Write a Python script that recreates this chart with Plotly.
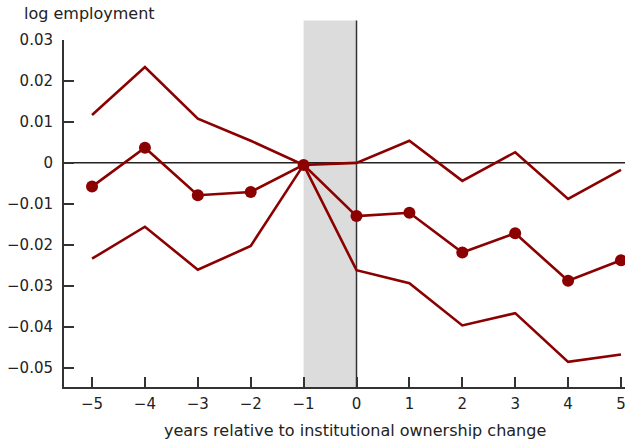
import plotly.graph_objects as go

# Event-time coefficients with 95% confidence bands
years = [-5, -4, -3, -2, -1, 0, 1, 2, 3, 4, 5]
estimate = [-0.0058, 0.0037, -0.0079, -0.0071, -0.0005, -0.0130, -0.0122, -0.0219, -0.0172, -0.0288, -0.0238]
upper_ci = [0.0117, 0.0234, 0.0108, 0.0054, -0.0005, 0.0000, 0.0054, -0.0044, 0.0026, -0.0088, -0.0017]
lower_ci = [-0.0234, -0.0156, -0.0261, -0.0203, -0.0005, -0.0262, -0.0294, -0.0397, -0.0367, -0.0486, -0.0468]

y_ticks = [0.03, 0.02, 0.01, 0, -0.01, -0.02, -0.03, -0.04, -0.05]
y_labels = ["0.03", "0.02", "0.01", "0", "\u22120.01", "\u22120.02", "\u22120.03", "\u22120.04", "\u22120.05"]
x_ticks = years
x_labels = ["\u22125", "\u22124", "\u22123", "\u22122", "\u22121", "0", "1", "2", "3", "4", "5"]

RED = "#8B0000"
AXIS = "#333333"
TEXT = "#222222"
FONT = "DejaVu Sans, Verdana, sans-serif"

fig = go.Figure()

for band in (upper_ci, lower_ci):
    fig.add_trace(go.Scatter(x=years, y=band, mode="lines",
                             line=dict(color=RED, width=2.6),
                             hoverinfo="skip", showlegend=False))

fig.add_trace(go.Scatter(x=years, y=estimate, mode="lines+markers",
                         line=dict(color=RED, width=2.6),
                         marker=dict(color=RED, size=12),
                         cliponaxis=False, showlegend=False))

# shaded event window and reference lines
fig.add_shape(type="rect", xref="x", yref="paper", x0=-1, x1=0, y0=0, y1=1.056,
              fillcolor="#dcdcdc", line=dict(width=0), layer="below")
fig.add_shape(type="line", xref="x", yref="paper", x0=0, x1=0, y0=0, y1=1.056,
              line=dict(color=AXIS, width=1.5), layer="below")
fig.add_shape(type="line", xref="paper", yref="y", x0=0, x1=1, y0=0, y1=0,
              line=dict(color=TEXT, width=1.5), layer="below")

# axis titles
fig.add_annotation(text="log employment", xref="paper", yref="paper",
                   x=-0.075, y=1.075, xanchor="left", yanchor="middle",
                   showarrow=False, font=dict(family=FONT, size=16, color=TEXT))
fig.add_annotation(text="years relative to institutional ownership change",
                   xref="paper", yref="paper", x=0.5196, y=-0.124,
                   xanchor="center", yanchor="middle",
                   showarrow=False, font=dict(family=FONT, size=16, color=TEXT))

fig.update_layout(
    width=625, height=442,
    margin=dict(l=64, r=0, t=40, b=55),
    paper_bgcolor="white", plot_bgcolor="white",
    font=dict(family=FONT, size=15, color=TEXT),
    xaxis=dict(range=[-5.53, 5.076], tickvals=x_ticks, ticktext=x_labels,
               ticks="inside", ticklen=10, automargin=False, ticklabeloverflow="allow",
               tickcolor=AXIS, tickwidth=1.5, showline=True, linecolor=AXIS, linewidth=2,
               showgrid=False, zeroline=False, ticklabelstandoff=2),
    yaxis=dict(range=[-0.05473, 0.03], tickvals=y_ticks, ticktext=y_labels,
               ticks="inside", ticklen=10, tickcolor=AXIS, tickwidth=1.5, automargin=False,
               showline=True, linecolor=AXIS, linewidth=2,
               showgrid=False, zeroline=False, ticklabelstandoff=6),
)

fig.write_html("out.html")
